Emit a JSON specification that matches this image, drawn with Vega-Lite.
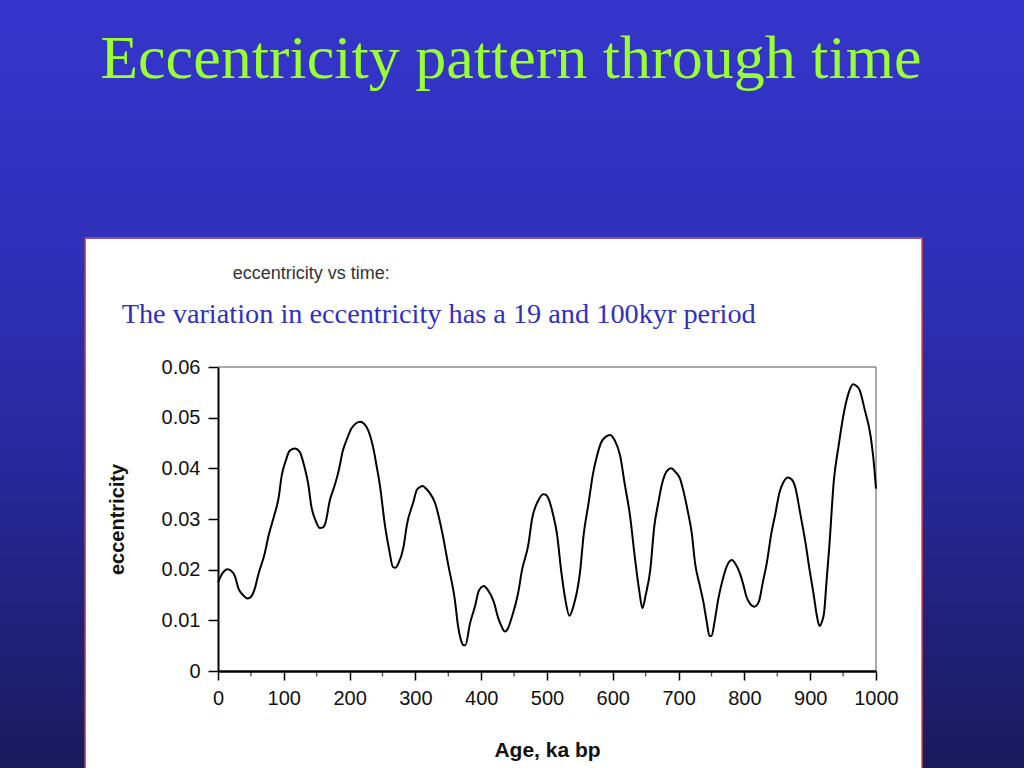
{
  "$schema": "https://vega.github.io/schema/vega-lite/v6.json",
  "width": 658,
  "height": 304,
  "autosize": {"type": "none"},
  "padding": {"left": 218, "top": 367, "right": 148, "bottom": 97},
  "background": "#ffffff",
  "config": {
    "view": {"stroke": null},
    "axis": {
      "grid": false,
      "zindex": 1,
      "labelFont": "Liberation Sans", "labelFontSize": 20, "labelColor": "#111111",
      "labelFlush": false, "labelOverlap": false,
      "tickColor": "#000000", "tickWidth": 1.5,
      "domainColor": "#000000",
      "titleFont": "Liberation Sans", "titleFontWeight": "bold", "titleColor": "#111111"
    },
    "axisX": {"labelPadding": 8, "tickSize": 9, "domainWidth": 2.5, "titleFontSize": 21, "titlePadding": 31},
    "axisY": {"labelPadding": 8, "tickSize": 10, "domainWidth": 2, "titleFontSize": 20, "titlePadding": 34}
  },
  "datasets": {
    "curve": [
      {"age": 0, "ecc": 0.0175}, {"age": 8, "ecc": 0.0195}, {"age": 14, "ecc": 0.0201}, {"age": 20, "ecc": 0.0198},
      {"age": 26, "ecc": 0.0186}, {"age": 31, "ecc": 0.0163}, {"age": 38, "ecc": 0.015}, {"age": 45, "ecc": 0.0143},
      {"age": 51, "ecc": 0.0148}, {"age": 56, "ecc": 0.0163}, {"age": 61, "ecc": 0.0189}, {"age": 71, "ecc": 0.0232},
      {"age": 77, "ecc": 0.0268}, {"age": 85, "ecc": 0.0305}, {"age": 92, "ecc": 0.0341}, {"age": 97, "ecc": 0.0387},
      {"age": 103, "ecc": 0.0415}, {"age": 109, "ecc": 0.0435}, {"age": 117, "ecc": 0.0439}, {"age": 124, "ecc": 0.0433},
      {"age": 131, "ecc": 0.0405}, {"age": 137, "ecc": 0.037}, {"age": 142, "ecc": 0.0324}, {"age": 148, "ecc": 0.0298},
      {"age": 155, "ecc": 0.0282}, {"age": 160, "ecc": 0.0284}, {"age": 163, "ecc": 0.0291}, {"age": 170, "ecc": 0.0337},
      {"age": 177, "ecc": 0.0365}, {"age": 183, "ecc": 0.0393}, {"age": 190, "ecc": 0.0436}, {"age": 196, "ecc": 0.0458},
      {"age": 203, "ecc": 0.0479}, {"age": 210, "ecc": 0.0489}, {"age": 216, "ecc": 0.0492}, {"age": 222, "ecc": 0.0488},
      {"age": 228, "ecc": 0.0476}, {"age": 236, "ecc": 0.044}, {"age": 241, "ecc": 0.0405}, {"age": 246, "ecc": 0.0367},
      {"age": 254, "ecc": 0.0285}, {"age": 260, "ecc": 0.024}, {"age": 266, "ecc": 0.0205}, {"age": 270, "ecc": 0.0204},
      {"age": 274, "ecc": 0.0212}, {"age": 282, "ecc": 0.0245}, {"age": 287, "ecc": 0.0288}, {"age": 297, "ecc": 0.0334},
      {"age": 302, "ecc": 0.0357}, {"age": 307, "ecc": 0.0363}, {"age": 311, "ecc": 0.0365}, {"age": 316, "ecc": 0.036},
      {"age": 322, "ecc": 0.0351}, {"age": 330, "ecc": 0.0331}, {"age": 341, "ecc": 0.0272}, {"age": 350, "ecc": 0.0209},
      {"age": 360, "ecc": 0.014}, {"age": 365, "ecc": 0.0087}, {"age": 370, "ecc": 0.0058}, {"age": 373, "ecc": 0.0051},
      {"age": 376, "ecc": 0.0051}, {"age": 383, "ecc": 0.0094}, {"age": 391, "ecc": 0.013}, {"age": 396, "ecc": 0.0157},
      {"age": 400, "ecc": 0.0165}, {"age": 404, "ecc": 0.0168}, {"age": 410, "ecc": 0.016}, {"age": 419, "ecc": 0.0137},
      {"age": 426, "ecc": 0.0104}, {"age": 431, "ecc": 0.0088}, {"age": 436, "ecc": 0.0078}, {"age": 441, "ecc": 0.0085},
      {"age": 446, "ecc": 0.0104}, {"age": 456, "ecc": 0.0153}, {"age": 462, "ecc": 0.0199}, {"age": 472, "ecc": 0.0252},
      {"age": 477, "ecc": 0.0298}, {"age": 487, "ecc": 0.0337}, {"age": 494, "ecc": 0.0349}, {"age": 498, "ecc": 0.0348},
      {"age": 502, "ecc": 0.0341}, {"age": 509, "ecc": 0.031}, {"age": 515, "ecc": 0.0272}, {"age": 522, "ecc": 0.0193},
      {"age": 528, "ecc": 0.014}, {"age": 534, "ecc": 0.0109}, {"age": 540, "ecc": 0.0127}, {"age": 550, "ecc": 0.0193},
      {"age": 556, "ecc": 0.0272}, {"age": 563, "ecc": 0.033}, {"age": 570, "ecc": 0.039}, {"age": 576, "ecc": 0.0425},
      {"age": 583, "ecc": 0.0453}, {"age": 590, "ecc": 0.0463}, {"age": 596, "ecc": 0.0466}, {"age": 603, "ecc": 0.0455},
      {"age": 611, "ecc": 0.0426}, {"age": 618, "ecc": 0.037}, {"age": 626, "ecc": 0.0308}, {"age": 634, "ecc": 0.0219},
      {"age": 640, "ecc": 0.016}, {"age": 645, "ecc": 0.0124}, {"age": 650, "ecc": 0.015}, {"age": 657, "ecc": 0.02},
      {"age": 663, "ecc": 0.0285}, {"age": 669, "ecc": 0.0331}, {"age": 674, "ecc": 0.0365}, {"age": 679, "ecc": 0.0387},
      {"age": 684, "ecc": 0.0397}, {"age": 689, "ecc": 0.04}, {"age": 695, "ecc": 0.0393}, {"age": 702, "ecc": 0.038},
      {"age": 707, "ecc": 0.0357}, {"age": 714, "ecc": 0.0315}, {"age": 720, "ecc": 0.0272}, {"age": 725, "ecc": 0.0213},
      {"age": 732, "ecc": 0.017}, {"age": 738, "ecc": 0.0134}, {"age": 743, "ecc": 0.0095}, {"age": 747, "ecc": 0.0069},
      {"age": 750, "ecc": 0.0069}, {"age": 755, "ecc": 0.01}, {"age": 760, "ecc": 0.014}, {"age": 766, "ecc": 0.0175},
      {"age": 773, "ecc": 0.0206}, {"age": 777, "ecc": 0.0216}, {"age": 781, "ecc": 0.0219}, {"age": 787, "ecc": 0.021},
      {"age": 793, "ecc": 0.0193}, {"age": 798, "ecc": 0.0172}, {"age": 803, "ecc": 0.0147}, {"age": 809, "ecc": 0.0132},
      {"age": 815, "ecc": 0.0127}, {"age": 822, "ecc": 0.0137}, {"age": 828, "ecc": 0.0175}, {"age": 834, "ecc": 0.0213},
      {"age": 841, "ecc": 0.0272}, {"age": 847, "ecc": 0.031}, {"age": 853, "ecc": 0.0351}, {"age": 859, "ecc": 0.0372},
      {"age": 866, "ecc": 0.0382}, {"age": 872, "ecc": 0.0378}, {"age": 877, "ecc": 0.0364}, {"age": 885, "ecc": 0.031},
      {"age": 893, "ecc": 0.0252}, {"age": 899, "ecc": 0.02}, {"age": 905, "ecc": 0.0153}, {"age": 910, "ecc": 0.011},
      {"age": 914, "ecc": 0.0089}, {"age": 918, "ecc": 0.0098}, {"age": 921, "ecc": 0.0114}, {"age": 925, "ecc": 0.018},
      {"age": 929, "ecc": 0.0245}, {"age": 936, "ecc": 0.0377}, {"age": 943, "ecc": 0.0443}, {"age": 952, "ecc": 0.0515},
      {"age": 960, "ecc": 0.0555}, {"age": 965, "ecc": 0.0566}, {"age": 970, "ecc": 0.0563}, {"age": 975, "ecc": 0.0555},
      {"age": 983, "ecc": 0.0515}, {"age": 992, "ecc": 0.0462}, {"age": 996, "ecc": 0.042}, {"age": 1000, "ecc": 0.036}
    ],
    "minor": [
      {"age": 50}, {"age": 150}, {"age": 250}, {"age": 350}, {"age": 450},
      {"age": 550}, {"age": 650}, {"age": 750}, {"age": 850}, {"age": 950}
    ]
  },
  "layer": [
    {
      "data": {"values": [{"part": "slide top"}]},
      "mark": {
        "type": "rect", "clip": false, "strokeWidth": 0,
        "fill": {"gradient": "linear", "x1": 0, "y1": 0, "x2": 0, "y2": 1,
                 "stops": [{"offset": 0, "color": "#3535cc"}, {"offset": 1, "color": "#3030bb"}]}
      },
      "encoding": {
        "x": {"datum": -340, "type": "quantitative", "scale": {"domain": [0, 1000], "nice": false, "zero": false},
              "axis": {"title": "Age, ka bp", "values": [0, 100, 200, 300, 400, 500, 600, 700, 800, 900, 1000], "format": "d"}},
        "x2": {"datum": 1240},
        "y": {"datum": 0.1325, "type": "quantitative", "scale": {"domain": [0, 0.06], "nice": false, "zero": false},
              "axis": {"title": "eccentricity", "values": [0, 0.01, 0.02, 0.03, 0.04, 0.05, 0.06], "format": "~g"}},
        "y2": {"datum": 0.0853}
      }
    },
    {
      "data": {"values": [{"part": "slide left"}]},
      "mark": {
        "type": "rect", "clip": false, "strokeWidth": 0,
        "fill": {"gradient": "linear", "x1": 0, "y1": 0, "x2": 0, "y2": 1,
                 "stops": [{"offset": 0, "color": "#3030bb"}, {"offset": 0.42, "color": "#28289c"}, {"offset": 1, "color": "#1a1a5c"}]}
      },
      "encoding": {
        "x": {"datum": -340, "type": "quantitative", "scale": {"domain": [0, 1000], "nice": false, "zero": false},
              "axis": {"title": "Age, ka bp", "values": [0, 100, 200, 300, 400, 500, 600, 700, 800, 900, 1000], "format": "d"}},
        "x2": {"datum": -202},
        "y": {"datum": 0.0859, "type": "quantitative", "scale": {"domain": [0, 0.06], "nice": false, "zero": false},
              "axis": {"title": "eccentricity", "values": [0, 0.01, 0.02, 0.03, 0.04, 0.05, 0.06], "format": "~g"}},
        "y2": {"datum": -0.0192}
      }
    },
    {
      "data": {"values": [{"part": "slide right"}]},
      "mark": {
        "type": "rect", "clip": false, "strokeWidth": 0,
        "fill": {"gradient": "linear", "x1": 0, "y1": 0, "x2": 0, "y2": 1,
                 "stops": [{"offset": 0, "color": "#3030bb"}, {"offset": 0.42, "color": "#28289c"}, {"offset": 1, "color": "#1a1a5c"}]}
      },
      "encoding": {
        "x": {"datum": 1070, "type": "quantitative", "scale": {"domain": [0, 1000], "nice": false, "zero": false},
              "axis": {"title": "Age, ka bp", "values": [0, 100, 200, 300, 400, 500, 600, 700, 800, 900, 1000], "format": "d"}},
        "x2": {"datum": 1240},
        "y": {"datum": 0.0859, "type": "quantitative", "scale": {"domain": [0, 0.06], "nice": false, "zero": false},
              "axis": {"title": "eccentricity", "values": [0, 0.01, 0.02, 0.03, 0.04, 0.05, 0.06], "format": "~g"}},
        "y2": {"datum": -0.0192}
      }
    },
    {
      "data": {"values": [{"part": "panel border"}]},
      "mark": {"type": "rect", "clip": false, "fill": "transparent", "stroke": "#c8404a", "strokeWidth": 1.5},
      "encoding": {
        "x": {"datum": -202, "type": "quantitative", "scale": {"domain": [0, 1000], "nice": false, "zero": false},
              "axis": {"title": "Age, ka bp", "values": [0, 100, 200, 300, 400, 500, 600, 700, 800, 900, 1000], "format": "d"}},
        "x2": {"datum": 1070},
        "y": {"datum": 0.0855, "type": "quantitative", "scale": {"domain": [0, 0.06], "nice": false, "zero": false},
              "axis": {"title": "eccentricity", "values": [0, 0.01, 0.02, 0.03, 0.04, 0.05, 0.06], "format": "~g"}},
        "y2": {"datum": -0.03}
      }
    },
    {
      "data": {"values": [{"part": "frame top"}]},
      "mark": {"type": "rule", "clip": false, "color": "#555555", "strokeWidth": 1},
      "encoding": {
        "x": {"datum": 0, "type": "quantitative", "scale": {"domain": [0, 1000], "nice": false, "zero": false},
              "axis": {"title": "Age, ka bp", "values": [0, 100, 200, 300, 400, 500, 600, 700, 800, 900, 1000], "format": "d"}},
        "x2": {"datum": 1000},
        "y": {"datum": 0.06, "type": "quantitative", "scale": {"domain": [0, 0.06], "nice": false, "zero": false},
              "axis": {"title": "eccentricity", "values": [0, 0.01, 0.02, 0.03, 0.04, 0.05, 0.06], "format": "~g"}}
      }
    },
    {
      "data": {"values": [{"part": "frame right"}]},
      "mark": {"type": "rule", "clip": false, "color": "#555555", "strokeWidth": 1},
      "encoding": {
        "x": {"datum": 1000, "type": "quantitative", "scale": {"domain": [0, 1000], "nice": false, "zero": false},
              "axis": {"title": "Age, ka bp", "values": [0, 100, 200, 300, 400, 500, 600, 700, 800, 900, 1000], "format": "d"}},
        "y": {"datum": 0, "type": "quantitative", "scale": {"domain": [0, 0.06], "nice": false, "zero": false},
              "axis": {"title": "eccentricity", "values": [0, 0.01, 0.02, 0.03, 0.04, 0.05, 0.06], "format": "~g"}},
        "y2": {"datum": 0.06}
      }
    },
    {
      "data": {"name": "curve"},
      "mark": {"type": "line", "color": "#000000", "strokeWidth": 2, "interpolate": "monotone"},
      "encoding": {
        "x": {"field": "age", "type": "quantitative", "scale": {"domain": [0, 1000], "nice": false, "zero": false},
              "axis": {"title": "Age, ka bp", "values": [0, 100, 200, 300, 400, 500, 600, 700, 800, 900, 1000], "format": "d"}},
        "y": {"field": "ecc", "type": "quantitative", "scale": {"domain": [0, 0.06], "nice": false, "zero": false},
              "axis": {"title": "eccentricity", "values": [0, 0.01, 0.02, 0.03, 0.04, 0.05, 0.06], "format": "~g"}}
      }
    },
    {
      "data": {"name": "minor"},
      "mark": {"type": "tick", "orient": "vertical", "size": 5, "thickness": 1.3, "color": "#000000", "yOffset": 3, "clip": false},
      "encoding": {
        "x": {"field": "age", "type": "quantitative", "scale": {"domain": [0, 1000], "nice": false, "zero": false},
              "axis": {"title": "Age, ka bp", "values": [0, 100, 200, 300, 400, 500, 600, 700, 800, 900, 1000], "format": "d"}},
        "y": {"datum": 0, "type": "quantitative", "scale": {"domain": [0, 0.06], "nice": false, "zero": false},
              "axis": {"title": "eccentricity", "values": [0, 0.01, 0.02, 0.03, 0.04, 0.05, 0.06], "format": "~g"}}
      }
    },
    {
      "data": {"values": [{"label": "Eccentricity pattern through time"}]},
      "mark": {"type": "text", "clip": false, "align": "center", "baseline": "alphabetic", "font": "Liberation Serif", "fontSize": 62, "color": "#99ff33"},
      "encoding": {
        "text": {"field": "label"},
        "x": {"datum": 445, "type": "quantitative", "scale": {"domain": [0, 1000], "nice": false, "zero": false},
              "axis": {"title": "Age, ka bp", "values": [0, 100, 200, 300, 400, 500, 600, 700, 800, 900, 1000], "format": "d"}},
        "y": {"datum": 0.117, "type": "quantitative", "scale": {"domain": [0, 0.06], "nice": false, "zero": false},
              "axis": {"title": "eccentricity", "values": [0, 0.01, 0.02, 0.03, 0.04, 0.05, 0.06], "format": "~g"}}
      }
    },
    {
      "data": {"values": [{"label": "eccentricity vs time:"}]},
      "mark": {"type": "text", "clip": false, "align": "left", "baseline": "alphabetic", "font": "Liberation Sans", "fontSize": 18, "color": "#333333"},
      "encoding": {
        "text": {"field": "label"},
        "x": {"datum": 22.3, "type": "quantitative", "scale": {"domain": [0, 1000], "nice": false, "zero": false},
              "axis": {"title": "Age, ka bp", "values": [0, 100, 200, 300, 400, 500, 600, 700, 800, 900, 1000], "format": "d"}},
        "y": {"datum": 0.0774, "type": "quantitative", "scale": {"domain": [0, 0.06], "nice": false, "zero": false},
              "axis": {"title": "eccentricity", "values": [0, 0.01, 0.02, 0.03, 0.04, 0.05, 0.06], "format": "~g"}}
      }
    },
    {
      "data": {"values": [{"label": "The variation in eccentricity has a 19 and 100kyr period"}]},
      "mark": {"type": "text", "clip": false, "align": "left", "baseline": "alphabetic", "font": "Liberation Serif", "fontSize": 28.3, "color": "#3030c0"},
      "encoding": {
        "text": {"field": "label"},
        "x": {"datum": -146.4, "type": "quantitative", "scale": {"domain": [0, 1000], "nice": false, "zero": false},
              "axis": {"title": "Age, ka bp", "values": [0, 100, 200, 300, 400, 500, 600, 700, 800, 900, 1000], "format": "d"}},
        "y": {"datum": 0.0687, "type": "quantitative", "scale": {"domain": [0, 0.06], "nice": false, "zero": false},
              "axis": {"title": "eccentricity", "values": [0, 0.01, 0.02, 0.03, 0.04, 0.05, 0.06], "format": "~g"}}
      }
    }
  ]
}
